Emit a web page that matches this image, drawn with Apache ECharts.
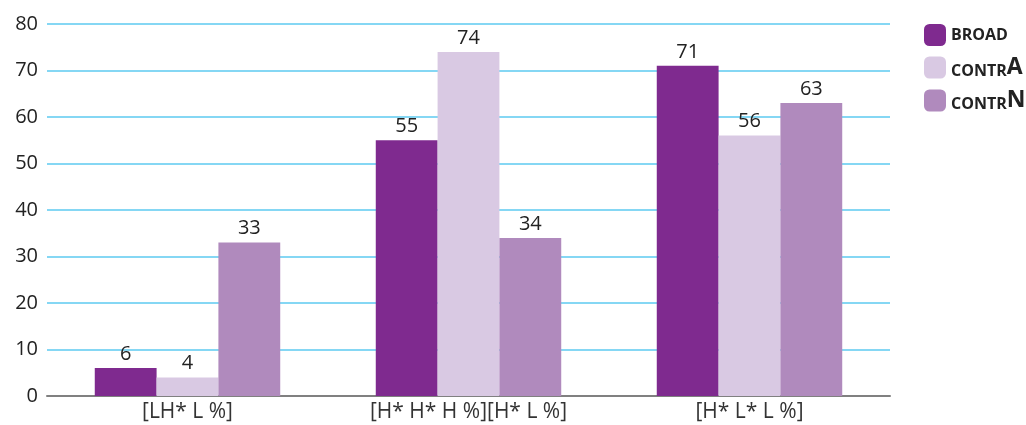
<!DOCTYPE html>
<html>
<head>
<meta charset="utf-8">
<script src="https://cdn.jsdelivr.net/npm/echarts@6/dist/echarts.min.js"></script>
<style>
  html, body { margin: 0; padding: 0; background: #ffffff; }
  #chart { width: 1026px; height: 425px; }
</style>
</head>
<body>
<div id="chart"></div>
<script>
// Categories and series values
const categories = ['[LH* L %]', '[H* H* H %][H* L %]', '[H* L* L %]'];
const broad = [6, 55, 71];
const contrA = [4, 74, 56];
const contrN = [33, 34, 63];
const yTicks = [0, 10, 20, 30, 40, 50, 60, 70, 80];

const FONT = '"Open Sans", "Noto Sans", sans-serif';
const chart = echarts.init(document.getElementById('chart'));

const labelStyle = {
  show: true,
  position: 'top',
  distance: 4,
  color: '#222222',
  fontSize: 20,
  fontFamily: FONT
};

function makeSeries(name, data, color) {
  return {
    name: name,
    type: 'bar',
    data: data,
    barGap: '0%',
    barCategoryGap: '34%',
    itemStyle: { color: color },
    label: labelStyle
  };
}

chart.setOption({
  animation: false,
  grid: { left: 47, right: 136, top: 24, bottom: 29, containLabel: false },
  legend: {
    orient: 'vertical',
    left: 919,
    top: 19,
    itemWidth: 22,
    itemHeight: 22,
    itemGap: 10,
    icon: 'roundRect',
    data: ['BROAD', 'contrA', 'contrN'],
    formatter: function (name) {
      if (name === 'BROAD') return '{s|BROAD}';
      return '{s|CONTR}{b|' + name.slice(-1) + '}';
    },
    textStyle: {
      fontFamily: FONT,
      color: '#222222',
      rich: {
        s: { fontSize: 16, fontWeight: 'bold', fontFamily: FONT, color: '#222222', verticalAlign: 'bottom' },
        b: { fontSize: 23, fontWeight: 'bold', fontFamily: FONT, color: '#222222', verticalAlign: 'bottom' }
      }
    }
  },
  xAxis: {
    type: 'category',
    data: categories,
    axisLine: { lineStyle: { color: '#808080', width: 2 } },
    axisTick: { show: false },
    axisLabel: { color: '#333333', fontSize: 21, fontFamily: FONT, margin: 6 }
  },
  yAxis: {
    type: 'value',
    min: yTicks[0],
    max: yTicks[yTicks.length - 1],
    interval: 10,
    axisLine: { show: false },
    axisTick: { show: false },
    axisLabel: { color: '#222222', fontSize: 20, fontFamily: FONT, margin: 9 },
    splitLine: { lineStyle: { color: '#5ccaf0', width: 1.5 } }
  },
  series: [
    makeSeries('BROAD', broad, '#7f2a8f'),
    makeSeries('contrA', contrA, '#d9c9e3'),
    makeSeries('contrN', contrN, '#b08abd')
  ]
});
</script>
</body>
</html>
